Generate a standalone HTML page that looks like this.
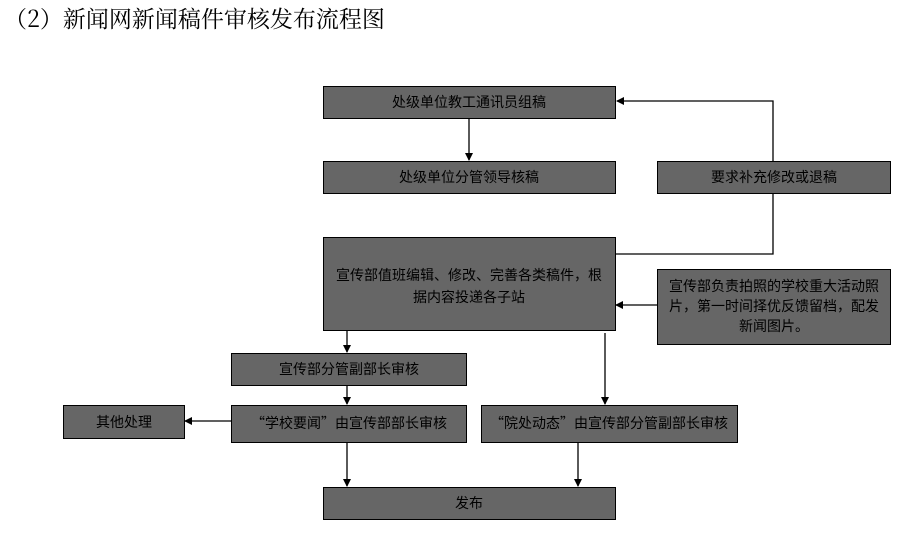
<!DOCTYPE html>
<html><head><meta charset="utf-8"><style>
body{margin:0;background:#fff;width:907px;height:529px;overflow:hidden}
svg text{font-family:"Liberation Sans","Noto Sans CJK SC",sans-serif;fill:#000}
.q{font-family:"Noto Sans CJK SC",sans-serif}
</style></head><body>
<svg width="907" height="529" xmlns="http://www.w3.org/2000/svg">
<defs><marker id="a" markerWidth="8" markerHeight="8" refX="7" refY="4" orient="auto" markerUnits="userSpaceOnUse"><path d="M0,0 L8,4 L0,8z" fill="#000"/></marker></defs>
<text x="4" y="27" font-size="23" style="font-family:'Noto Serif CJK SC','Liberation Serif',serif">（2）新闻网新闻稿件审核发布流程图</text>
<g stroke="#000" stroke-width="1.3" fill="none">
<line x1="469" y1="118" x2="469" y2="160" marker-end="url(#a)"/>
<polyline points="615,254 773,254 773,101 617,101" marker-end="url(#a)"/>
<line x1="657" y1="305" x2="616" y2="305" marker-end="url(#a)"/>
<line x1="347" y1="330" x2="347" y2="352" marker-end="url(#a)"/>
<line x1="347" y1="385" x2="347" y2="404" marker-end="url(#a)"/>
<line x1="231" y1="421" x2="185" y2="421" marker-end="url(#a)"/>
<line x1="347" y1="442" x2="347" y2="486" marker-end="url(#a)"/>
<line x1="605" y1="333" x2="605" y2="404" marker-end="url(#a)"/>
<line x1="578" y1="442" x2="578" y2="486" marker-end="url(#a)"/>
</g>
<g fill="#666666" stroke="#000" stroke-width="1">
<rect x="323.5" y="86.5" width="292" height="32"/>
<rect x="323.5" y="161.5" width="292" height="32"/>
<rect x="657.5" y="161.5" width="233" height="32"/>
<rect x="323.5" y="237.5" width="292" height="93"/>
<rect x="657.5" y="269.5" width="233" height="75"/>
<rect x="231.5" y="353.5" width="235" height="32"/>
<rect x="63.5" y="405.5" width="121" height="33"/>
<rect x="231.5" y="405.5" width="235" height="37"/>
<rect x="481.5" y="405.5" width="256" height="37"/>
<rect x="323.5" y="487.5" width="292" height="32"/>
</g>
<g font-size="14" text-anchor="middle">
<text x="469" y="107">处级单位教工通讯员组稿</text>
<text x="469" y="182">处级单位分管领导核稿</text>
<text x="774" y="182">要求补充修改或退稿</text>
<text x="469" y="280">宣传部值班编辑、修改、完善各类稿件，根</text>
<text x="469" y="302">据内容投递各子站</text>
<text x="774" y="291">宣传部负责拍照的学校重大活动照</text>
<text x="774" y="311">片，第一时间择优反馈留档，配发</text>
<text x="774" y="331">新闻图片。</text>
<text x="349" y="374">宣传部分管副部长审核</text>
<text x="124" y="427">其他处理</text>
<text x="349" y="428"><tspan class="q">“</tspan>学校要闻<tspan class="q">”</tspan>由宣传部部长审核</text>
<text x="609" y="428"><tspan class="q">“</tspan>院处动态<tspan class="q">”</tspan>由宣传部分管副部长审核</text>
<text x="469" y="508">发布</text>
</g>
</svg>
</body></html>
